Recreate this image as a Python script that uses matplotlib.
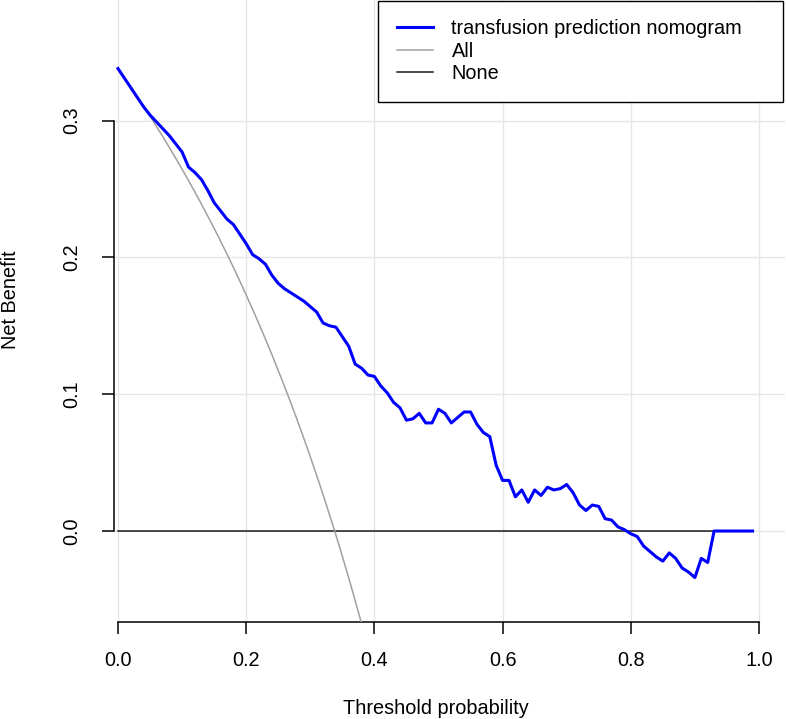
import matplotlib
matplotlib.use('Agg')
from matplotlib import pyplot as plt
import numpy as np

plt.rcParams['font.family'] = ['Liberation Sans', 'DejaVu Sans']

# threshold probabilities 0.00 .. 0.99
thresholds = np.arange(0, 100) / 100

# net benefit of the nomogram
nomogram = [
    0.338, 0.331, 0.324, 0.317, 0.310, 0.304, 0.299, 0.294, 0.289, 0.283,
    0.277, 0.266, 0.262, 0.257, 0.249, 0.240, 0.234, 0.228, 0.224, 0.217,
    0.210, 0.202, 0.199, 0.195, 0.187, 0.181, 0.177, 0.174, 0.171, 0.168,
    0.164, 0.160, 0.152, 0.150, 0.149, 0.142, 0.135, 0.122, 0.119, 0.114,
    0.113, 0.106, 0.101, 0.094, 0.090, 0.081, 0.082, 0.086, 0.079, 0.079,
    0.089, 0.086, 0.079, 0.083, 0.087, 0.087, 0.078, 0.072, 0.069, 0.048,
    0.037, 0.037, 0.025, 0.030, 0.021, 0.030, 0.026, 0.032, 0.030, 0.031,
    0.034, 0.028, 0.019, 0.015, 0.019, 0.018, 0.009, 0.008, 0.003, 0.001,
    -0.002, -0.004, -0.011, -0.015, -0.019, -0.022, -0.016, -0.020, -0.027, -0.030,
    -0.034, -0.020, -0.023, 0.0, 0.0, 0.0, 0.0, 0.0, 0.0, 0.0,
]

# treat-all curve (only the part that is visible)
all_x = np.arange(0, 40) / 100
all_nb = [
    0.3380, 0.3313, 0.3245, 0.3175, 0.3104, 0.3032, 0.2957, 0.2882, 0.2804, 0.2725,
    0.2644, 0.2562, 0.2477, 0.2391, 0.2302, 0.2212, 0.2119, 0.2024, 0.1927, 0.1827,
    0.1725, 0.1620, 0.1513, 0.1403, 0.1290, 0.1173, 0.1054, 0.0932, 0.0806, 0.0676,
    0.0543, 0.0406, 0.0265, 0.0119, -0.0030, -0.0185, -0.0344, -0.0508, -0.0677, -0.0853,
]

# treat-none
none_nb = [0.0] * len(thresholds)

xticks = [0.0, 0.2, 0.4, 0.6, 0.8, 1.0]
yticks = [0.0, 0.1, 0.2, 0.3]

W, H = 786, 719
fig = plt.figure(figsize=(W / 100, H / 100), dpi=100)
ax = fig.add_axes([114 / W, (H - 622) / H, (785 - 114) / W, 622 / H])

ax.set_xlim(-0.00624, 1.0406)
ax.set_ylim(-0.0665, 0.3881)

for x in xticks:
    ax.axvline(x, color='#e6e6e6', lw=1.0, zorder=0)
for y in yticks:
    ax.axhline(y, color='#e6e6e6', lw=1.0, zorder=0)

ax.plot(thresholds, nomogram, color='#0000ff', lw=2.2, label='transfusion prediction nomogram', zorder=4)
ax.plot(all_x, all_nb, color='#a0a0a0', lw=1.1, label='All', zorder=3)
ax.plot(thresholds, none_nb, color='#1a1a1a', lw=1.1, label='None', zorder=2)

for s in ['top', 'right']:
    ax.spines[s].set_visible(False)
ax.spines['left'].set_bounds(0, 0.3)
ax.spines['bottom'].set_bounds(0, 1)
for s in ['left', 'bottom']:
    ax.spines[s].set_linewidth(1.1)

ax.set_xticks(xticks)
ax.set_xticklabels(['%.1f' % v for v in xticks])
ax.set_yticks(yticks)
ax.set_yticklabels(['%.1f' % v for v in yticks])
ax.tick_params(direction='out', length=8.6, width=1.1, labelsize=14.3, colors='black')
ax.tick_params(axis='x', pad=12)
ax.tick_params(axis='y', pad=15)
plt.setp(ax.get_yticklabels(), rotation=90, va='center')

fig.text(436 / W, 1 - 708 / H, 'Threshold probability', ha='center', va='center', fontsize=14.3)
fig.text(11 / W, 1 - 300 / H, 'Net Benefit', ha='center', va='center', rotation=90, fontsize=14.3)

leg = ax.legend(loc='upper left', bbox_to_anchor=(378 / W, 0, 405 / W, 1 - 0.5 / H),
                bbox_transform=fig.transFigure, mode='expand', borderaxespad=0,
                fontsize=14.3, frameon=True, fancybox=False, framealpha=1,
                edgecolor='black', handlelength=1.8, handletextpad=0.95,
                borderpad=0.95, labelspacing=0.17)
leg.get_frame().set_linewidth(1.0)

fig.savefig('out.png', dpi=100)
